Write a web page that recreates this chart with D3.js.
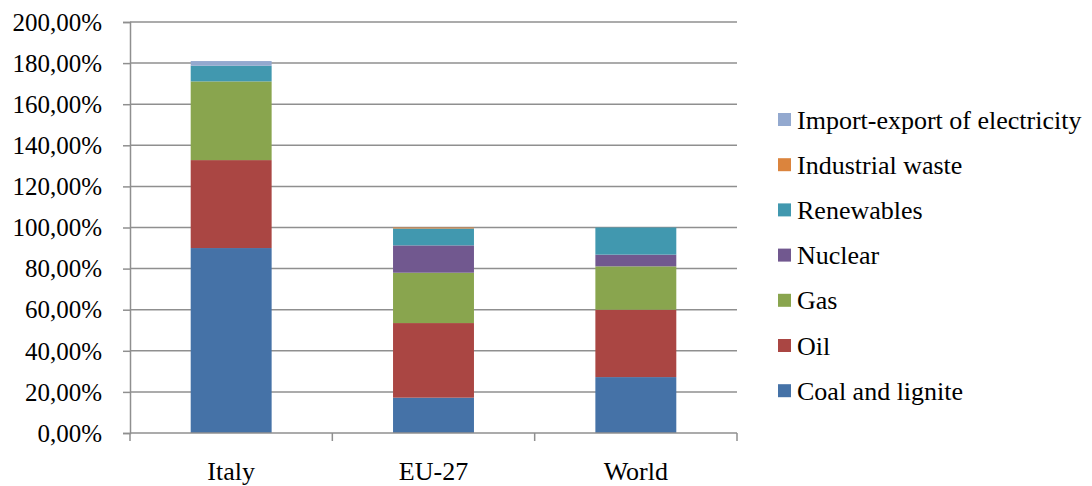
<!DOCTYPE html>
<html>
<head>
<meta charset="utf-8">
<script src="https://cdn.jsdelivr.net/npm/d3@7"></script>
<style>
  html, body { margin: 0; padding: 0; background: #fff; }
  svg { display: block; font-family: "Liberation Serif", "Times New Roman", serif; }
</style>
</head>
<body>
<svg id="chart" width="1092" height="486"></svg>
<script>
// Energy sources, bottom of stack first
const categories = ["Italy", "EU-27", "World"];
const sources = ["Coal and lignite", "Oil", "Gas", "Nuclear", "Renewables", "Industrial waste", "Import-export of electricity"];
const coal       = [90.0, 17.2, 27.2];
const oil        = [42.8, 36.3, 32.8];
const gas        = [38.3, 24.5, 21.1];
const nuclear    = [0.0, 13.3, 5.7];
const renewables = [7.6, 8.2, 13.2];
const waste      = [0.0, 0.5, 0.0];
const importExp  = [2.3, 0.0, 0.0];
const yTicks = [0, 20, 40, 60, 80, 100, 120, 140, 160, 180, 200];
const colors = ["#4572A7", "#AA4643", "#89A54E", "#71588F", "#4198AF", "#DB843D", "#93A9CF"];

const seriesValues = [coal, oil, gas, nuclear, renewables, waste, importExp];
const rows = categories.map((c, i) => {
  const r = { category: c };
  sources.forEach((s, k) => { r[s] = seriesValues[k][i]; });
  return r;
});

const svg = d3.select("#chart");
const plotLeft = 130, plotRight = 737, plotTop = 22, plotBottom = 433;

const x = d3.scaleBand().domain(categories).range([plotLeft, plotRight]).paddingInner(0.6).paddingOuter(0.3);
const y = d3.scaleLinear().domain([0, 200]).range([plotBottom, plotTop]);
const color = d3.scaleOrdinal().domain(sources).range(colors);

const fmt = v => d3.format(".2f")(v).replace(".", ",") + "%";
const axisGrey = "#8f8f8f";

// horizontal gridlines
svg.append("g").selectAll("line").data(yTicks.filter(t => t > 0)).join("line")
  .attr("x1", plotLeft).attr("x2", plotRight)
  .attr("y1", d => y(d)).attr("y2", d => y(d))
  .attr("stroke", axisGrey).attr("stroke-width", 1.5);

// stacked bars
const stacked = d3.stack().keys(sources)(rows);
svg.append("g").selectAll("g").data(stacked).join("g")
  .attr("fill", d => color(d.key))
  .selectAll("rect").data(d => d).join("rect")
  .attr("x", d => x(d.data.category))
  .attr("width", x.bandwidth())
  .attr("y", d => y(d[1]))
  .attr("height", d => y(d[0]) - y(d[1]));

// y axis
const yAxis = svg.append("g").attr("transform", `translate(${plotLeft},0)`)
  .call(d3.axisLeft(y).tickValues(yTicks).tickFormat(fmt).tickSize(7).tickPadding(21));
yAxis.select(".domain").attr("stroke", axisGrey).attr("stroke-width", 1.5);
yAxis.selectAll(".tick line").attr("stroke", axisGrey).attr("stroke-width", 1.5);
yAxis.selectAll(".tick text").attr("font-family", "Liberation Serif").attr("font-size", 25)
  .attr("fill", "#000").attr("dy", "0.33em");

// x axis with ticks between categories
svg.append("line").attr("x1", plotLeft).attr("x2", plotRight).attr("y1", plotBottom).attr("y2", plotBottom)
  .attr("stroke", axisGrey).attr("stroke-width", 1.5);
const bounds = d3.range(categories.length + 1).map(i => plotLeft + i * x.step());
svg.append("g").selectAll("line").data(bounds).join("line")
  .attr("x1", d => d).attr("x2", d => d).attr("y1", plotBottom).attr("y2", plotBottom + 8)
  .attr("stroke", axisGrey).attr("stroke-width", 1.5);
svg.append("g").selectAll("text").data(categories).join("text")
  .attr("x", d => x(d) + x.bandwidth() / 2).attr("y", 480)
  .attr("text-anchor", "middle").attr("font-size", 26).attr("fill", "#000")
  .text(d => d);

// legend, top entry is the last stacked series
const legendOrder = sources.slice().reverse();
const lg = svg.append("g").selectAll("g").data(legendOrder).join("g")
  .attr("transform", (d, i) => `translate(778,${119.5 + i * 45.2})`);
lg.append("rect").attr("x", 0).attr("y", -6.5).attr("width", 13).attr("height", 13)
  .attr("fill", d => color(d));
lg.append("text").attr("x", 19).attr("y", 9).attr("font-size", 26).attr("fill", "#000")
  .text(d => d);
</script>
</body>
</html>
